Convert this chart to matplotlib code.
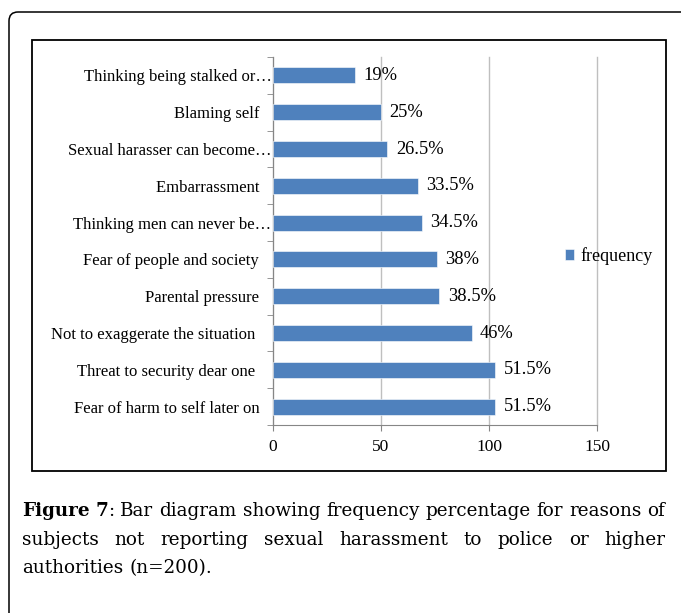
import numpy as np
import matplotlib.pyplot as plt
from matplotlib.patches import FancyBboxPatch, Rectangle

# reasons for not reporting harassment, bottom to top as drawn
reasons = [
    "Fear of harm to self later on   ",
    "Threat to security dear one    ",
    "Not to exaggerate the situation    ",
    "Parental pressure   ",
    "Fear of people and society   ",
    "Thinking men can never be\u2026",
    "Embarrassment   ",
    "Sexual harasser can become\u2026",
    "Blaming self   ",
    "Thinking being stalked or\u2026",
]
percent = [51.5, 51.5, 46, 38.5, 38, 34.5, 33.5, 26.5, 25, 19]
n_subjects = 200
pct_labels = ["51.5%", "51.5%", "46%", "38.5%", "38%", "34.5%", "33.5%",
              "26.5%", "25%", "19%"]
xticks = [0, 50, 100, 150]

caption_lines = [
    [[("Figure", "bold")], [("7", "bold"), (":", "normal")], "Bar", "diagram",
     "showing", "frequency", "percentage", "for", "reasons", "of"],
    ["subjects", "not", "reporting", "sexual", "harassment", "to", "police",
     "or", "higher"],
    ["authorities", "(n=200)."],
]

BLUE = "#4F81BD"
plt.rcParams["font.family"] = ["Liberation Serif", "DejaVu Serif"]

W, H = 681, 613
fig = plt.figure(figsize=(W / 100, H / 100), dpi=100)

# outer rounded panel and inner chart frame, in pixel units
px = fig.dpi_scale_trans
def inch(v):
    return v / 100.0

outer = FancyBboxPatch((inch(9), inch(H - 700)), inch(800), inch(688),
                       boxstyle="round,pad=0,rounding_size=0.09",
                       transform=px, fill=False, ec="black", lw=1.1)
fig.patches.append(outer)
frame = Rectangle((inch(32), inch(H - 471)), inch(634), inch(431),
                  transform=px, fill=False, ec="black", lw=1.3)
fig.patches.append(frame)

ax = fig.add_axes([273 / W, 1 - 425 / H, (597 - 273) / W, (425 - 57) / H])
counts = np.array(percent) * n_subjects / 100
y = np.arange(len(reasons))
ax.barh(y, counts, height=0.44, color=BLUE, edgecolor="white", lw=0.4,
        label="frequency", zorder=3)

for yi, c, lab in zip(y, counts, pct_labels):
    ax.annotate(lab, (c, yi), xytext=(6, 0), textcoords="offset points",
                va="center", ha="left", fontsize=13.3, zorder=4)

ax.set_xlim(0, 150)
ax.set_ylim(-0.5, len(reasons) - 0.5)
ax.set_xticks(xticks)
ax.set_yticks(y)
ax.set_yticklabels(reasons)
ax.set_yticks(np.arange(-0.5, len(reasons), 1), minor=True)
ax.tick_params(axis="y", which="major", length=0, pad=1, labelsize=12)
ax.tick_params(axis="y", which="minor", length=4, color="#868686")
ax.tick_params(axis="x", length=4, color="#868686", labelsize=12.5, pad=6)
ax.grid(axis="x", color="#BFBFBF", lw=1, zorder=0)
for gl in ax.get_xgridlines():
    gl.set_clip_on(False)
for side in ["top", "right"]:
    ax.spines[side].set_visible(False)
for side in ["left", "bottom"]:
    ax.spines[side].set_color("#868686")

fig.legend(loc="center left", bbox_to_anchor=(549 / W, 1 - 256 / H),
           frameon=False, fontsize=13, handlelength=0.5, handleheight=0.5,
           handletextpad=0.35)

# justified caption below the chart frame
left, right = 22, 665
baselines = [516, 545, 573]
fs = 13.2
cap_font = ["DejaVu Serif"]
fig.canvas.draw()
renderer = fig.canvas.get_renderer()

def run_width(s, weight):
    t = fig.text(0, 0, s, fontsize=fs, fontweight=weight, family=cap_font)
    w = t.get_window_extent(renderer).width
    t.remove()
    return w

space = run_width("a b", "normal") - run_width("ab", "normal")
for i, words in enumerate(caption_lines):
    words = [[(w, "normal")] if isinstance(w, str) else w for w in words]
    widths = [sum(run_width(s, wt) for s, wt in word) for word in words]
    if i < len(caption_lines) - 1:
        gap = (right - left - sum(widths)) / (len(words) - 1)
    else:
        gap = space
    x = left
    for word, ww in zip(words, widths):
        xx = x
        for s, wt in word:
            fig.text(xx / W, 1 - baselines[i] / H, s, fontsize=fs,
                     fontweight=wt, family=cap_font, va="baseline", ha="left")
            xx += run_width(s, wt)
        x += ww + gap

fig.savefig("out.png", dpi=100)
